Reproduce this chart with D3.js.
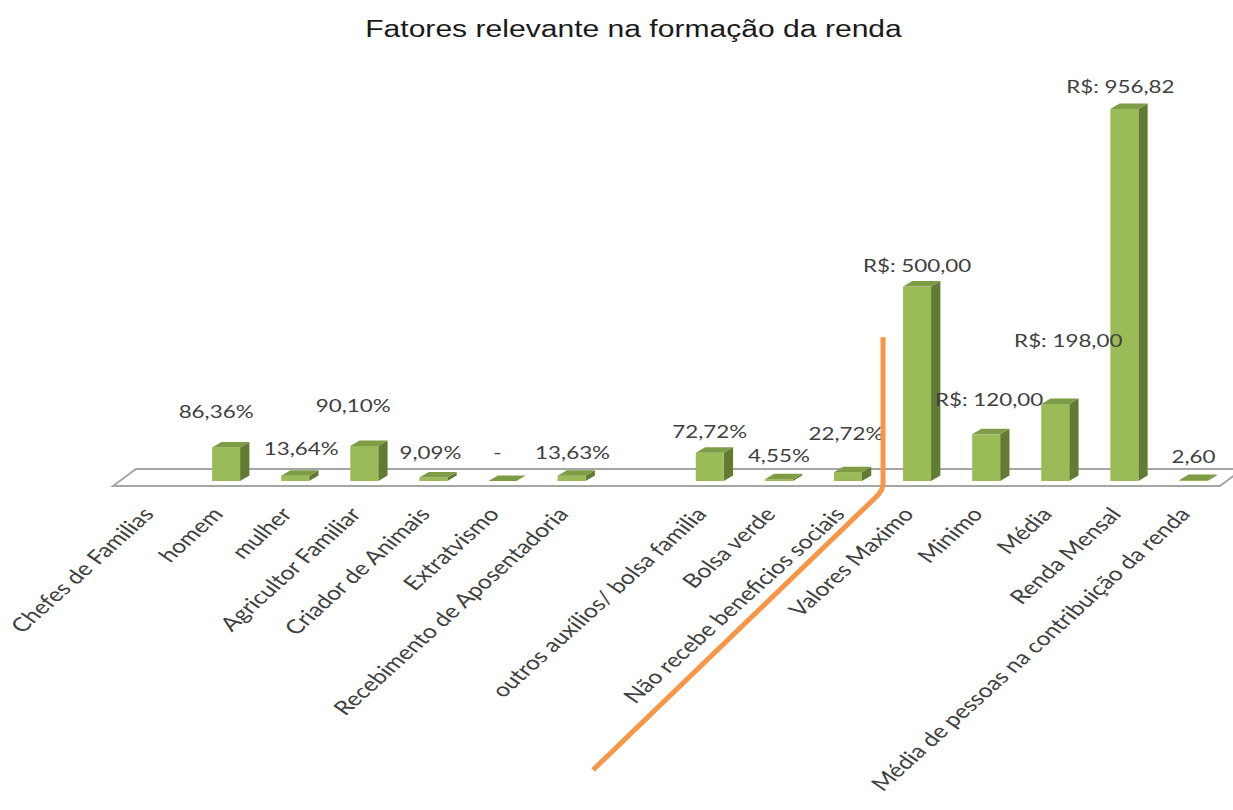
<!DOCTYPE html>
<html>
<head>
<meta charset="utf-8">
<script src="https://cdn.jsdelivr.net/npm/d3@7"></script>
<style>
  body { margin: 0; background: #fff; }
</style>
</head>
<body>
<div id="chart"></div>
<script>

// data
let categories = [
	"Chefes de Familias", "homem", "mulher", "Agricultor Familiar", "Criador de Animais",
	"Extratvismo", "Recebimento de Aposentadoria", "", "outros auxílios/ bolsa familia",
	"Bolsa verde", "Não recebe beneficios sociais", "Valores Maximo", "Minimo", "Média",
	"Renda Mensal", "Média de pessoas na contribuição da renda"
];
let values = [null, 86.36, 13.64, 90.10, 9.09, 0, 13.63, null, 72.72, 4.55, 22.72, 500, 120, 198, 956.82, 2.60];
let valueLabels = ["", "86,36%", "13,64%", "90,10%", "9,09%", "-", "13,63%", "", "72,72%", "4,55%", "22,72%",
	"R$: 500,00", "R$: 120,00", "R$: 198,00", "R$: 956,82", "2,60"];

// label nudges (layout only, px): how far each value label sits above its bar
let labelLift = [0, 29, 21, 34, 18, 22, 17, 0, 15, 17, 32, 15, 28, 57, 16, 17];
let labelShift = [0, -10, 6, -11, -3, -5, 1, 0, 0, 0, -2, 0, 3, 13, -4, 0];

let width = 1233;
let height = 810;
let stretch = 1.28;     // picture is wider than tall text would be
let barW = 28;
let depth = { dx: 9.3, dy: -5.5 };

let svg = d3.select('#chart')
	.append('svg')
	.attr('width', width)
	.attr('height', height)
	.style('font-family', 'Lato, "Open Sans", sans-serif');

let x = d3.scalePoint()
	.domain(d3.range(categories.length))
	.range([122.45, 1228])
	.padding(0.5);

let y = d3.scaleLinear()
	.domain([0, 1000])
	.range([481, 92.2]);

// title
svg.append('text')
	.attr('transform', `translate(${width / 2 + 17}, 37) scale(${stretch}, 1)`)
	.attr('text-anchor', 'middle')
	.style('font-family', '"Liberation Sans", Arial, sans-serif')
	.style('font-size', '23.5px')
	.attr('fill', '#1a1a1a')
	.text('Fatores relevante na formação da renda');

// floor
let y0 = y(0);
let fl = x(0) - 44, fr = x(categories.length - 1) + 26.5;
svg.append('polygon')
	.attr('points', [[fl, y0 + 5], [fl + 23, y0 - 12], [fr + 23, y0 - 12], [fr, y0 + 5]].join(' '))
	.attr('fill', '#fff')
	.attr('stroke', '#a5a5a5')
	.attr('stroke-width', 2);

// bars
let bars = svg.append('g')
	.selectAll('g')
	.data(values.map((v, i) => ({ v: v, i: i })).filter(d => d.v !== null))
	.enter()
	.append('g');

bars.append('polygon')   // side
	.attr('points', d => {
		let r = x(d.i) + barW / 2, t = y(d.v);
		return [[r, t], [r + depth.dx, t + depth.dy], [r + depth.dx, y0 + depth.dy], [r, y0]].join(' ');
	})
	.attr('fill', '#627b33');

bars.append('rect')      // front
	.attr('x', d => x(d.i) - barW / 2)
	.attr('y', d => y(d.v))
	.attr('width', barW)
	.attr('height', d => y0 - y(d.v))
	.attr('fill', '#9bbb59');

bars.append('polygon')   // top
	.attr('points', d => {
		let l = x(d.i) - barW / 2, r = x(d.i) + barW / 2, t = y(d.v);
		return [[l, t], [l + depth.dx, t + depth.dy], [r + depth.dx, t + depth.dy], [r, t]].join(' ');
	})
	.attr('fill', '#7e9c45');

// value labels
svg.append('g')
	.selectAll('text')
	.data(values.map((v, i) => ({ v: v, i: i })).filter(d => d.v !== null))
	.enter()
	.append('text')
	.attr('transform', d => `translate(${x(d.i) + labelShift[d.i]}, ${y(d.v) - labelLift[d.i]}) scale(${stretch}, 1)`)
	.attr('text-anchor', 'middle')
	.style('font-size', '17.5px')
	.attr('fill', '#404040')
	.text(d => valueLabels[d.i]);

// category labels
svg.append('g')
	.selectAll('text')
	.data(categories.map((c, i) => ({ c: c, i: i })).filter(d => d.c !== ''))
	.enter()
	.append('text')
	.attr('transform', d => `translate(${x(d.i) - 2}, 515) scale(${stretch}, 1) rotate(-49)`)
	.attr('text-anchor', 'end')
	.style('font-size', '19.5px')
	.attr('fill', '#404040')
	.text(d => d.c);

// orange annotation line between the two groups
let ox = (x(10) + x(11)) / 2 + 0.5;
let oy = y0 + 9;
let orange = d3.path();
orange.moveTo(ox, y(370));
orange.lineTo(ox, oy - 6);
orange.quadraticCurveTo(ox, oy, ox - 6, oy + 6);
orange.lineTo(ox - 290, oy + 280);
svg.append('path')
	.attr('d', orange.toString())
	.attr('fill', 'none')
	.attr('stroke', '#f79646')
	.attr('stroke-width', 5)
	.attr('stroke-linecap', 'butt');

</script>
</body>
</html>
